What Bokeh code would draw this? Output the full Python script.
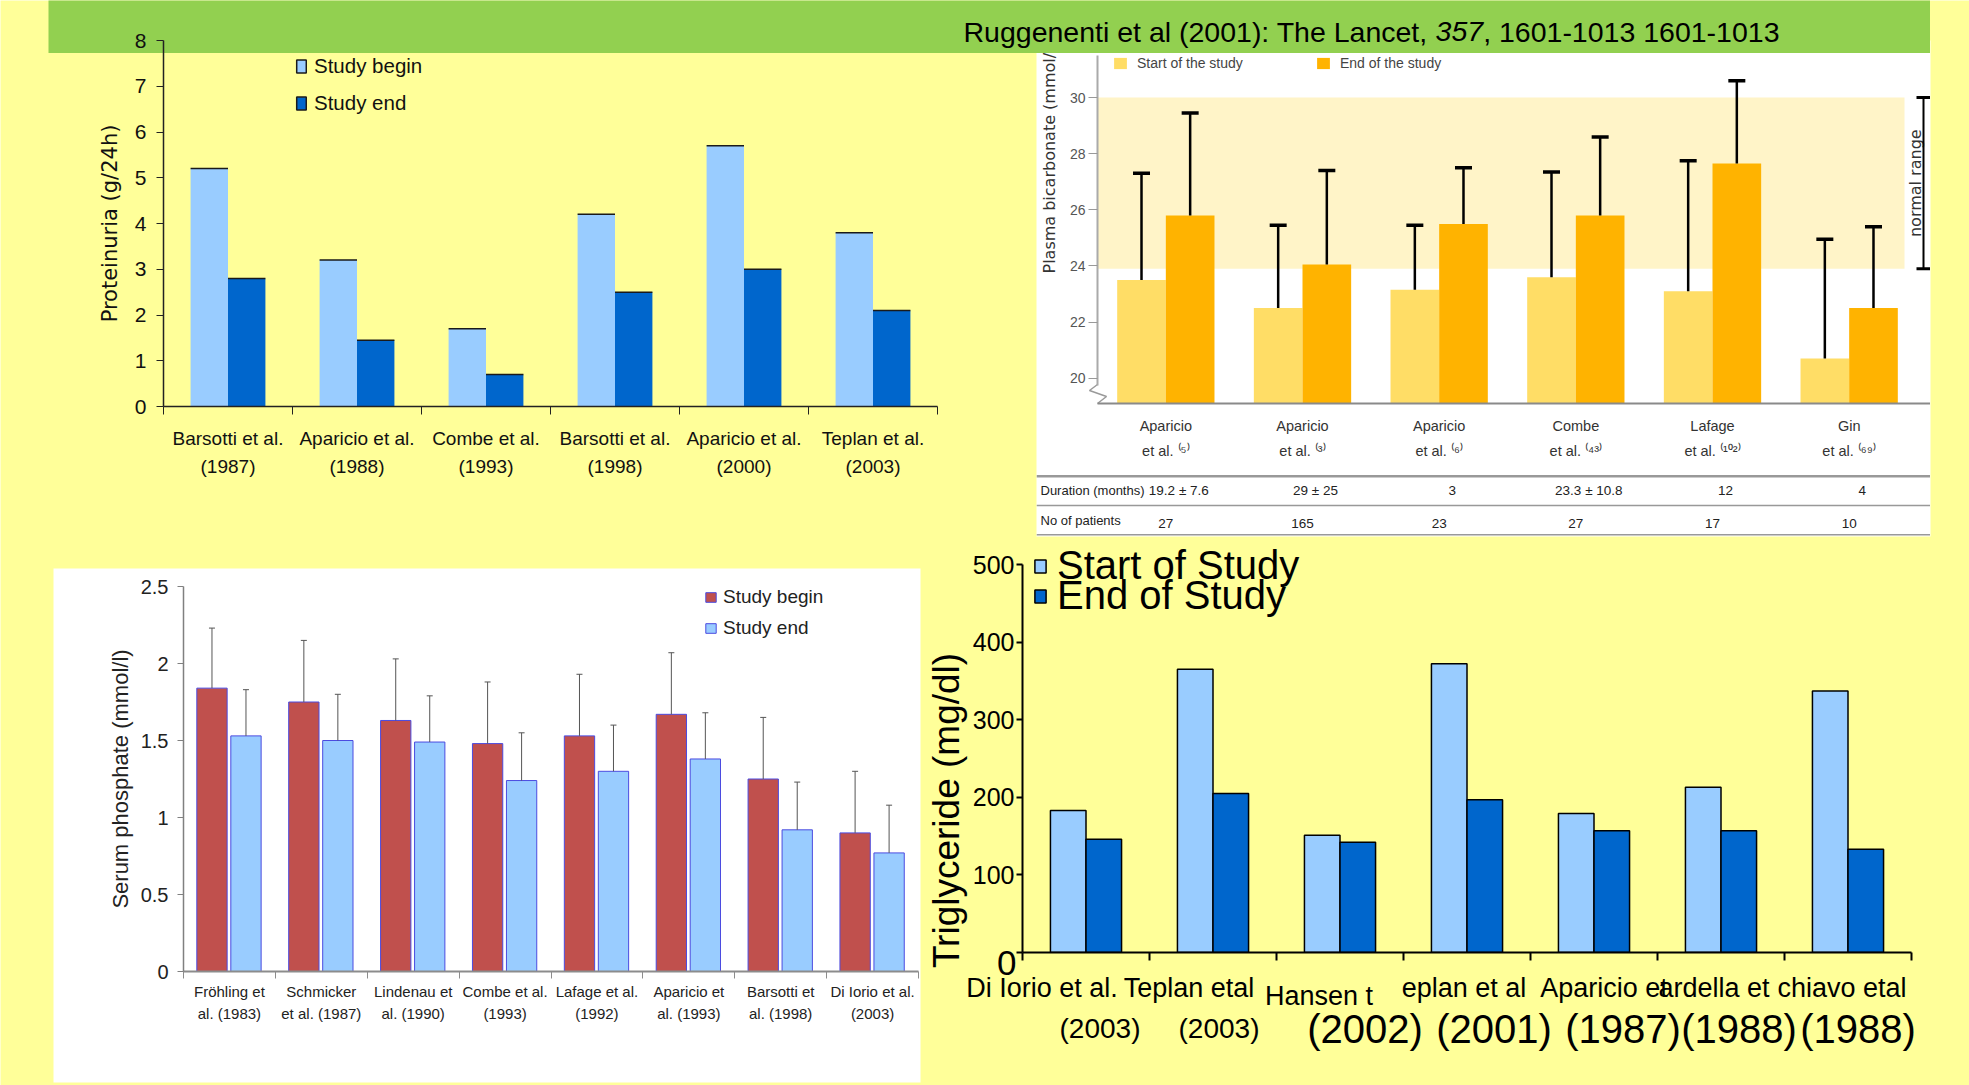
import math
from bokeh.plotting import figure
from bokeh.models import (Range1d, FixedTicker, ColumnDataSource, Whisker, TeeHead,
                          BoxAnnotation, Legend, LegendItem, Column, Span)
from bokeh.core.properties import value
from bokeh.embed import file_html
from bokeh.resources import INLINE

# ===================== DATA =====================
title_main = "Ruggenenti et al (2001): The Lancet, "
title_volume = "357"
title_pages = ", 1601-1013 1601-1013"

# Proteinuria (top left)
prot_studies = ["Barsotti et al.\n(1987)", "Aparicio et al.\n(1988)", "Combe et al.\n(1993)",
                "Barsotti et al.\n(1998)", "Aparicio et al.\n(2000)", "Teplan et al.\n(2003)"]
prot_begin = [5.2, 3.2, 1.7, 4.2, 5.7, 3.8]
prot_end = [2.8, 1.45, 0.7, 2.5, 3.0, 2.1]
prot_yticks = [0, 1, 2, 3, 4, 5, 6, 7, 8]

# Plasma bicarbonate (top right)
bic_studies = ["Aparicio\net al. \u207d\u2075\u207e", "Aparicio\net al. \u207d\u00b3\u207e",
               "Aparicio\net al. \u207d\u2076\u207e", "Combe\net al. \u207d\u2074\u00b3\u207e",
               "Lafage\net al. \u207d\u00b9\u2070\u00b2\u207e", "Gin\net al. \u207d\u2076\u2079\u207e"]
bic_start = [23.5, 22.5, 23.15, 23.6, 23.1, 20.7]
bic_end = [25.8, 24.05, 25.5, 25.8, 27.65, 22.5]
bic_start_sd_top = [27.3, 25.45, 25.45, 27.35, 27.75, 24.95]
bic_end_sd_top = [29.45, 27.4, 27.5, 28.6, 30.6, 25.4]
bic_normal_range = [23.9, 30.0]
bic_yticks = [20, 22, 24, 26, 28, 30]
bic_rows = ["Duration (months)", "No of patients"]
bic_duration = ["19.2 \u00b1 7.6", "29 \u00b1 25", "3", "23.3 \u00b1 10.8", "12", "4"]
bic_patients = ["27", "165", "23", "27", "17", "10"]

# Serum phosphate (bottom left)
phos_studies = ["Fr\u00f6hling et\nal. (1983)", "Schmicker\net al. (1987)", "Lindenau et\nal. (1990)",
                "Combe et al.\n(1993)", "Lafage et al.\n(1992)", "Aparicio et\nal. (1993)",
                "Barsotti et\nal. (1998)", "Di Iorio et al.\n(2003)"]
phos_begin = [1.84, 1.75, 1.63, 1.48, 1.53, 1.67, 1.25, 0.90]
phos_end = [1.53, 1.50, 1.49, 1.24, 1.30, 1.38, 0.92, 0.77]
phos_begin_sd_top = [2.23, 2.15, 2.03, 1.88, 1.93, 2.07, 1.65, 1.30]
phos_end_sd_top = [1.83, 1.80, 1.79, 1.55, 1.60, 1.68, 1.23, 1.08]
phos_yticks = [0, 0.5, 1, 1.5, 2, 2.5]
phos_ytick_labels = ["0", "0.5", "1", "1.5", "2", "2.5"]

# Triglyceride (bottom right)
tg_names = ["Di Iorio et al.", "Teplan etal", "Hansen t", "eplan et al", "Aparicio et",
            "ardella et", "chiavo etal"]
tg_years = ["(2003)", "(2003)", "(2002)", "(2001)", "(1987)", "(1988)", "(1988)"]
tg_start = [183, 365, 151, 372, 179, 213, 337]
tg_end = [146, 205, 142, 197, 157, 157, 133]
tg_yticks = [0, 100, 200, 300, 400, 500]

# ===================== STYLE =====================
YELLOW = "#FFFF99"
GREEN = "#92D050"
LIGHT_BLUE = "#99CCFF"
DARK_BLUE = "#0066CC"
BIC_START = "#FFDD66"
BIC_END = "#FFB300"
BAND = "#FFF4C8"
PHOS_RED = "#C0504D"
PHOS_EDGE = "#4B4BE0"
SANS = "Liberation Sans"
DEJAVU = "DejaVu Sans"


def panel(frame, borders, xr, yr, axes=True):
    fl, ft, fr, fb = frame
    L, T, R, B = borders
    kw = {} if axes else dict(x_axis_location=None, y_axis_location=None)
    f = figure(width=int(round(fr - fl + L + R)), height=int(round(fb - ft + T + B)),
               x_range=xr, y_range=yr, output_backend="svg", toolbar_location=None,
               title=None, min_border_left=L, min_border_right=R, min_border_top=T,
               min_border_bottom=B, frame_align=False, **kw)
    f.background_fill_color = None
    f.border_fill_color = None
    f.outline_line_color = None
    f.grid.visible = False
    f.styles = {"position": "absolute", "left": f"{int(round(fl - L))}px",
                "top": f"{int(round(ft - T))}px"}
    return f


def plain_legend(items, loc, **kw):
    return Legend(items=items, location=loc, padding=0, margin=0, border_line_color=None,
                  background_fill_alpha=0, **kw)


# ===================== BACKGROUND =====================
bg = panel((0, 0, 1969, 1085), (0, 0, 0, 0), Range1d(0, 1969), Range1d(1085, 0), axes=False)
bg.background_fill_color = YELLOW
bg.quad(left=[1036, 53], right=[1930, 920], top=[40, 568], bottom=[536, 1082],
        fill_color="white", line_color=None)
# axis-break zigzag at the foot of the bicarbonate y axis
bg.line(x=[1097, 1089, 1106, 1097], y=[384, 390, 396, 403], line_color="#9a9a9a", line_width=1.5)
bg.text(x=[1049], y=[273], text=["Plasma bicarbonate (mmol/l)"], angle=math.pi / 2,
        text_align="left", text_baseline="middle", text_font=value(DEJAVU),
        text_font_size="16px", text_color="#333333")
bg.text(x=[946], y=[810], text=["Triglyceride (mg/dl)"], angle=math.pi / 2,
        text_align="center", text_baseline="middle", text_font=value(SANS),
        text_font_size="37px", text_color="black")
bg.text(x=[1016], y=[962], text=[str(tg_yticks[0])], text_align="right", text_baseline="middle",
        text_font=value(SANS), text_font_size="35px", text_color="black")

# ===================== BANNER =====================
FB = (48, 0, 1930, 53)
pb = panel(FB, (0, 0, 0, 0), Range1d(48, 1930), Range1d(53, 0), axes=False)
pb.background_fill_color = GREEN
ARIAL_W = {' ': 278, '(': 333, ')': 333, ',': 278, '-': 333, '.': 278, ':': 278, 'R': 722,
           'T': 611, 'L': 556, 'a': 556, 'c': 500, 'e': 556, 'g': 556, 'h': 556, 'i': 222,
           'l': 222, 'n': 556, 't': 278, 'u': 556}


def text_w(s, size):
    return sum(ARIAL_W.get(ch, 556) for ch in s) / 1000.0 * size


TFS = 28.5
tx0 = 963
tx1 = tx0 + text_w(title_main, TFS)
tx2 = tx1 + text_w(title_volume, TFS)
for tx, s, st in [(tx0, title_main, "normal"), (tx1, title_volume, "italic"), (tx2, title_pages, "normal")]:
    pb.text(x=[tx], y=[31], text=[s], text_align="left", text_baseline="middle",
            text_font=value(SANS), text_font_size=f"{TFS}px", text_font_style=st, text_color="black")

# ===================== PANEL 1: Proteinuria =====================
F1 = (163, 40, 937, 406)
n1 = len(prot_studies)
p1 = panel(F1, (115, 16, 12, 90), Range1d(0, n1), Range1d(0, prot_yticks[-1]))
c1 = [i + 0.5 for i in range(n1)]
s1 = ColumnDataSource(dict(xb=[c - 0.145 for c in c1], xe=[c + 0.145 for c in c1],
                           begin=prot_begin, end=prot_end))
r1b = p1.vbar(x="xb", top="begin", width=0.29, source=s1, fill_color=LIGHT_BLUE, line_color=None)
r1bt = p1.vbar(x="xb", top="begin", bottom="begin", width=0.29, source=s1, fill_color=None,
               line_color="#1a1a1a", line_width=1.5)
r1e = p1.vbar(x="xe", top="end", width=0.29, source=s1, fill_color=DARK_BLUE, line_color=None)
r1et = p1.vbar(x="xe", top="end", bottom="end", width=0.29, source=s1, fill_color=None,
               line_color="#1a1a1a", line_width=1.5)
ax = p1.xaxis[0]
ax.ticker = FixedTicker(ticks=c1, minor_ticks=list(range(n1 + 1)))
ax.major_label_overrides = {c: s for c, s in zip(c1, prot_studies)}
ax.major_tick_line_color = None
ax.major_tick_out = 0
ax.major_tick_in = 0
ax.minor_tick_out = 8
ax.minor_tick_in = 0
ax.minor_tick_line_color = "#222222"
ax.axis_line_color = "#222222"
ax.axis_line_width = 1.5
ax.major_label_text_font = SANS
ax.major_label_text_font_size = "19px"
ax.major_label_text_color = "#111111"
ax.major_label_text_line_height = 1.38
ax.major_label_standoff = 13
ay = p1.yaxis[0]
ay.ticker = FixedTicker(ticks=prot_yticks)
ay.major_tick_out = 7
ay.major_tick_in = 0
ay.minor_tick_line_color = None
ay.major_tick_line_color = "#222222"
ay.axis_line_color = "#222222"
ay.axis_line_width = 1.5
ay.major_label_standoff = 10
ay.major_label_text_font = SANS
ay.major_label_text_font_size = "21px"
ay.major_label_text_color = "#111111"
ay.axis_label = "Proteinuria (g/24h)"
ay.axis_label_text_font = DEJAVU
ay.axis_label_text_font_size = "21px"
ay.axis_label_text_font_style = "normal"
ay.axis_label_text_color = "#111111"
ay.axis_label_standoff = 10
p1.add_layout(plain_legend([LegendItem(label="Study begin", renderers=[r1b, r1bt]),
                            LegendItem(label="Study end", renderers=[r1e, r1et])],
                           (132, 291), glyph_width=12, glyph_height=16, label_standoff=7,
                           spacing=13, label_height=16, label_text_font=SANS,
                           label_text_font_size="20.5px", label_text_color="#111111"))

# ===================== PANEL 2: Bicarbonate =====================
F2 = (1097, 55, 1930, 403)
n2 = len(bic_studies)
AX2_RIGHT = 1917  # where the six categories end
BIC_FLOOR = 19.1


def x2_at(px):
    return n2 * (px - F2[0]) / (AX2_RIGHT - F2[0])


p2 = panel(F2, (61, 10, 0, 70), Range1d(0, x2_at(F2[2])), Range1d(BIC_FLOOR, 31.5))
c2 = [i + 0.5 for i in range(n2)]
s2 = ColumnDataSource(dict(xs=[c - 0.178 for c in c2], xe=[c + 0.178 for c in c2],
                           start=bic_start, end=bic_end,
                           start_hi=bic_start_sd_top, end_hi=bic_end_sd_top))
p2.add_layout(BoxAnnotation(left=0, right=x2_at(1904), bottom=bic_normal_range[0],
                            top=bic_normal_range[1], fill_color=BAND, fill_alpha=1,
                            line_color=None, level="underlay"))
r2s = p2.vbar(x="xs", top="start", bottom=BIC_FLOOR, width=0.356, source=s2, fill_color=BIC_START,
              line_color=None)
r2e = p2.vbar(x="xe", top="end", bottom=BIC_FLOOR, width=0.356, source=s2, fill_color=BIC_END,
              line_color=None)
for base, lo, hi in [("xs", "start", "start_hi"), ("xe", "end", "end_hi")]:
    p2.add_layout(Whisker(source=s2, base=base, lower=lo, upper=hi, dimension="height",
                          line_color="black", line_width=2.5, lower_head=None,
                          upper_head=TeeHead(size=17, line_width=3.5, line_color="black"),
                          level="annotation"))
sn = ColumnDataSource(dict(x=[x2_at(1923)], lo=[bic_normal_range[0]], hi=[bic_normal_range[1]]))
p2.add_layout(Whisker(source=sn, base="x", lower="lo", upper="hi", dimension="height",
                      line_color="black", line_width=2,
                      lower_head=TeeHead(size=14, line_width=3, line_color="black"),
                      upper_head=TeeHead(size=14, line_width=3, line_color="black"),
                      level="annotation"))
p2.text(x=[x2_at(1915)], y=[sum(bic_normal_range) / 2], text=["normal range"], angle=math.pi / 2,
        text_align="center", text_baseline="middle", text_font=value(DEJAVU),
        text_font_size="16px", text_color="#333333")
bx = p2.xaxis[0]
bx.ticker = FixedTicker(ticks=c2)
bx.major_label_overrides = {c: s for c, s in zip(c2, bic_studies)}
bx.major_tick_line_color = None
bx.major_tick_out = 0
bx.minor_tick_line_color = None
bx.axis_line_color = "#8a8a8a"
bx.axis_line_width = 2
bx.major_label_text_font = SANS
bx.major_label_text_font_size = "14.5px"
bx.major_label_text_color = "#333333"
bx.major_label_text_line_height = 1.6
bx.major_label_standoff = 14
by = p2.yaxis[0]
by.ticker = FixedTicker(ticks=bic_yticks)
by.bounds = (19.75, 31.5)
by.major_tick_out = 9
by.major_tick_in = 0
by.major_tick_line_color = "#999999"
by.minor_tick_line_color = None
by.axis_line_color = "#aaaaaa"
by.axis_line_width = 2
by.major_label_standoff = 3
by.major_label_text_font = SANS
by.major_label_text_font_size = "14px"
by.major_label_text_color = "#555555"
p2.add_layout(plain_legend([LegendItem(label="Start of the study", renderers=[r2s]),
                            LegendItem(label="End of the study", renderers=[r2e])],
                           (15, 332), orientation="horizontal", glyph_width=16, glyph_height=14,
                           label_standoff=9, spacing=0, label_width=178, label_height=14,
                           label_text_font=SANS, label_text_font_size="14px",
                           label_text_color="#444444"))

# table below panel 2
FT = (1036, 470, 1930, 540)
pt = panel(FT, (0, 0, 0, 0), Range1d(x2_at(FT[0]), x2_at(FT[2])), Range1d(2.2, -0.2), axes=False)
for k, lw in [(0, 2.5), (1, 1.5), (2, 1.5)]:
    pt.add_layout(Span(location=k, dimension="width", line_color="#999999", line_width=lw))
pt.text(x=[x2_at(1040)] * 2, y=[0.5, 1.5], text=bic_rows, text_align="left",
        text_baseline="middle", text_font=value(SANS), text_font_size="13px",
        text_color="#222222")
pt.text(x=c2, y=[0.5] * n2, text=bic_duration, x_offset=13, text_align="center",
        text_baseline="middle", text_font=value(SANS), text_font_size="13.5px",
        text_color="#222222")
pt.text(x=c2, y=[1.5] * n2, text=bic_patients, y_offset=3, text_align="center",
        text_baseline="middle", text_font=value(SANS), text_font_size="13.5px",
        text_color="#222222")

# ===================== PANEL 3: Phosphate =====================
F3 = (183, 586, 918, 971)
n3 = len(phos_studies)
p3 = panel(F3, (130, 20, 2, 100), Range1d(0, n3), Range1d(0, phos_yticks[-1]))
c3 = [i + 0.5 for i in range(n3)]
s3 = ColumnDataSource(dict(xb=[c - 0.19 for c in c3], xe=[c + 0.18 for c in c3],
                           begin=phos_begin, end=phos_end,
                           begin_hi=phos_begin_sd_top, end_hi=phos_end_sd_top))
r3b = p3.vbar(x="xb", top="begin", width=0.33, source=s3, fill_color=PHOS_RED,
              line_color=PHOS_EDGE, line_width=1)
r3e = p3.vbar(x="xe", top="end", width=0.33, source=s3, fill_color=LIGHT_BLUE,
              line_color=PHOS_EDGE, line_width=1)
for base, lo, hi in [("xb", "begin", "begin_hi"), ("xe", "end", "end_hi")]:
    p3.add_layout(Whisker(source=s3, base=base, lower=lo, upper=hi, dimension="height",
                          line_color="#555555", line_width=1, lower_head=None,
                          upper_head=TeeHead(size=6, line_width=1, line_color="#555555"),
                          level="annotation"))
cx = p3.xaxis[0]
cx.ticker = FixedTicker(ticks=c3, minor_ticks=list(range(n3 + 1)))
cx.major_label_overrides = {c: s for c, s in zip(c3, phos_studies)}
cx.major_tick_line_color = None
cx.major_tick_out = 0
cx.minor_tick_out = 7
cx.minor_tick_in = 0
cx.minor_tick_line_color = "#8c8c8c"
cx.axis_line_color = "#8c8c8c"
cx.axis_line_width = 2
cx.major_label_text_font = SANS
cx.major_label_text_font_size = "15px"
cx.major_label_text_color = "#222222"
cx.major_label_text_line_height = 1.3
cx.major_label_standoff = 4
cy = p3.yaxis[0]
cy.ticker = FixedTicker(ticks=phos_yticks)
cy.major_label_overrides = {v: s for v, s in zip(phos_yticks, phos_ytick_labels)}
cy.major_tick_out = 6
cy.major_tick_in = 0
cy.major_tick_line_color = "#808080"
cy.minor_tick_line_color = None
cy.axis_line_color = "#808080"
cy.axis_line_width = 1.5
cy.major_label_standoff = 9
cy.major_label_text_font = SANS
cy.major_label_text_font_size = "20px"
cy.major_label_text_color = "#222222"
cy.axis_label = "Serum phosphate (mmol/l)"
cy.axis_label_text_font = SANS
cy.axis_label_text_font_size = "22px"
cy.axis_label_text_font_style = "normal"
cy.axis_label_text_color = "#222222"
cy.axis_label_standoff = 5
p3.add_layout(plain_legend([LegendItem(label="Study begin", renderers=[r3b]),
                            LegendItem(label="Study end", renderers=[r3e])],
                           (521, 332), glyph_width=13, glyph_height=12, label_standoff=6,
                           spacing=9, label_height=12, label_text_font=SANS,
                           label_text_font_size="19px", label_text_color="#222222"))

# ===================== PANEL 4: Triglyceride =====================
F4_AXIS_TOP = 564  # pixel row of the 500 tick
F4 = (1022, 520, 1911, 952)
n4 = len(tg_names)
tg_top = tg_yticks[-1] * (F4[3] - F4[1]) / (F4[3] - F4_AXIS_TOP)
p4 = panel(F4, (60, 10, 10, 20), Range1d(0, n4), Range1d(0, tg_top))
c4 = [i + 0.5 for i in range(n4)]
s4 = ColumnDataSource(dict(xs=[c - 0.14 for c in c4], xe=[c + 0.14 for c in c4],
                           start=tg_start, end=tg_end))
r4s = p4.vbar(x="xs", top="start", width=0.28, source=s4, fill_color=LIGHT_BLUE,
              line_color="black", line_width=1.5)
r4e = p4.vbar(x="xe", top="end", width=0.28, source=s4, fill_color=DARK_BLUE,
              line_color="black", line_width=1.5)
dx = p4.xaxis[0]
dx.ticker = FixedTicker(ticks=[], minor_ticks=list(range(n4 + 1)))
dx.minor_tick_out = 8
dx.minor_tick_in = 0
dx.minor_tick_line_color = "black"
dx.minor_tick_line_width = 2
dx.axis_line_color = "black"
dx.axis_line_width = 2
dy = p4.yaxis[0]
dy.ticker = FixedTicker(ticks=tg_yticks)
dy.bounds = (tg_yticks[0], tg_yticks[-1])
dy.major_label_overrides = {tg_yticks[0]: ""}
dy.major_tick_out = 6
dy.major_tick_in = 0
dy.major_tick_line_color = "black"
dy.major_tick_line_width = 2
dy.minor_tick_line_color = None
dy.axis_line_color = "black"
dy.axis_line_width = 2
dy.major_label_standoff = 2
dy.major_label_text_font = SANS
dy.major_label_text_font_size = "25px"
dy.major_label_text_color = "black"
for lab, rend, vy in [("Start of Study", r4s, 364), ("End of Study", r4e, 334)]:
    p4.add_layout(plain_legend([LegendItem(label=lab, renderers=[rend])], (11, vy),
                               glyph_width=14, glyph_height=16, label_standoff=10,
                               label_height=16, label_text_font=SANS,
                               label_text_font_size="40px", label_text_color="black"))

# category labels of panel 4 (own strip so they may overhang the frame)
FG = (930, 945, 1960, 1075)


def x4_at(px):
    return n4 * (px - F4[0]) / (F4[2] - F4[0])


pg = panel(FG, (0, 0, 0, 0), Range1d(x4_at(FG[0]), x4_at(FG[2])), Range1d(FG[3], FG[1]), axes=False)
tg_name_dx = [-44, -24, -21, -3, 10, -7, -6]
tg_name_dy = [0, 0, 8, 0, 0, 0, 0]
tg_year_dx = [14, 6, 25, 27, 29, 18, 10]
tg_year_size = ["28px", "28px", "40px", "40px", "40px", "40px", "40px"]
pg.text(x=c4, y=[987] * n4, text=tg_names, x_offset=tg_name_dx, y_offset=tg_name_dy,
        text_align="center", text_baseline="middle", text_font=value(SANS),
        text_font_size="27px", text_color="black")
pg.text(x=c4, y=[1028] * n4, text=tg_years, x_offset=tg_year_dx, text_font_size=tg_year_size,
        text_align="center", text_baseline="middle", text_font=value(SANS), text_color="black")

# ===================== PAGE =====================
root = Column(children=[bg, p2, pt, pb, p1, p3, p4, pg], width=1969, height=1085,
              styles={"position": "relative"})
html = file_html(root, INLINE, title="Composite chart")
open("out.html", "w").write(html)
